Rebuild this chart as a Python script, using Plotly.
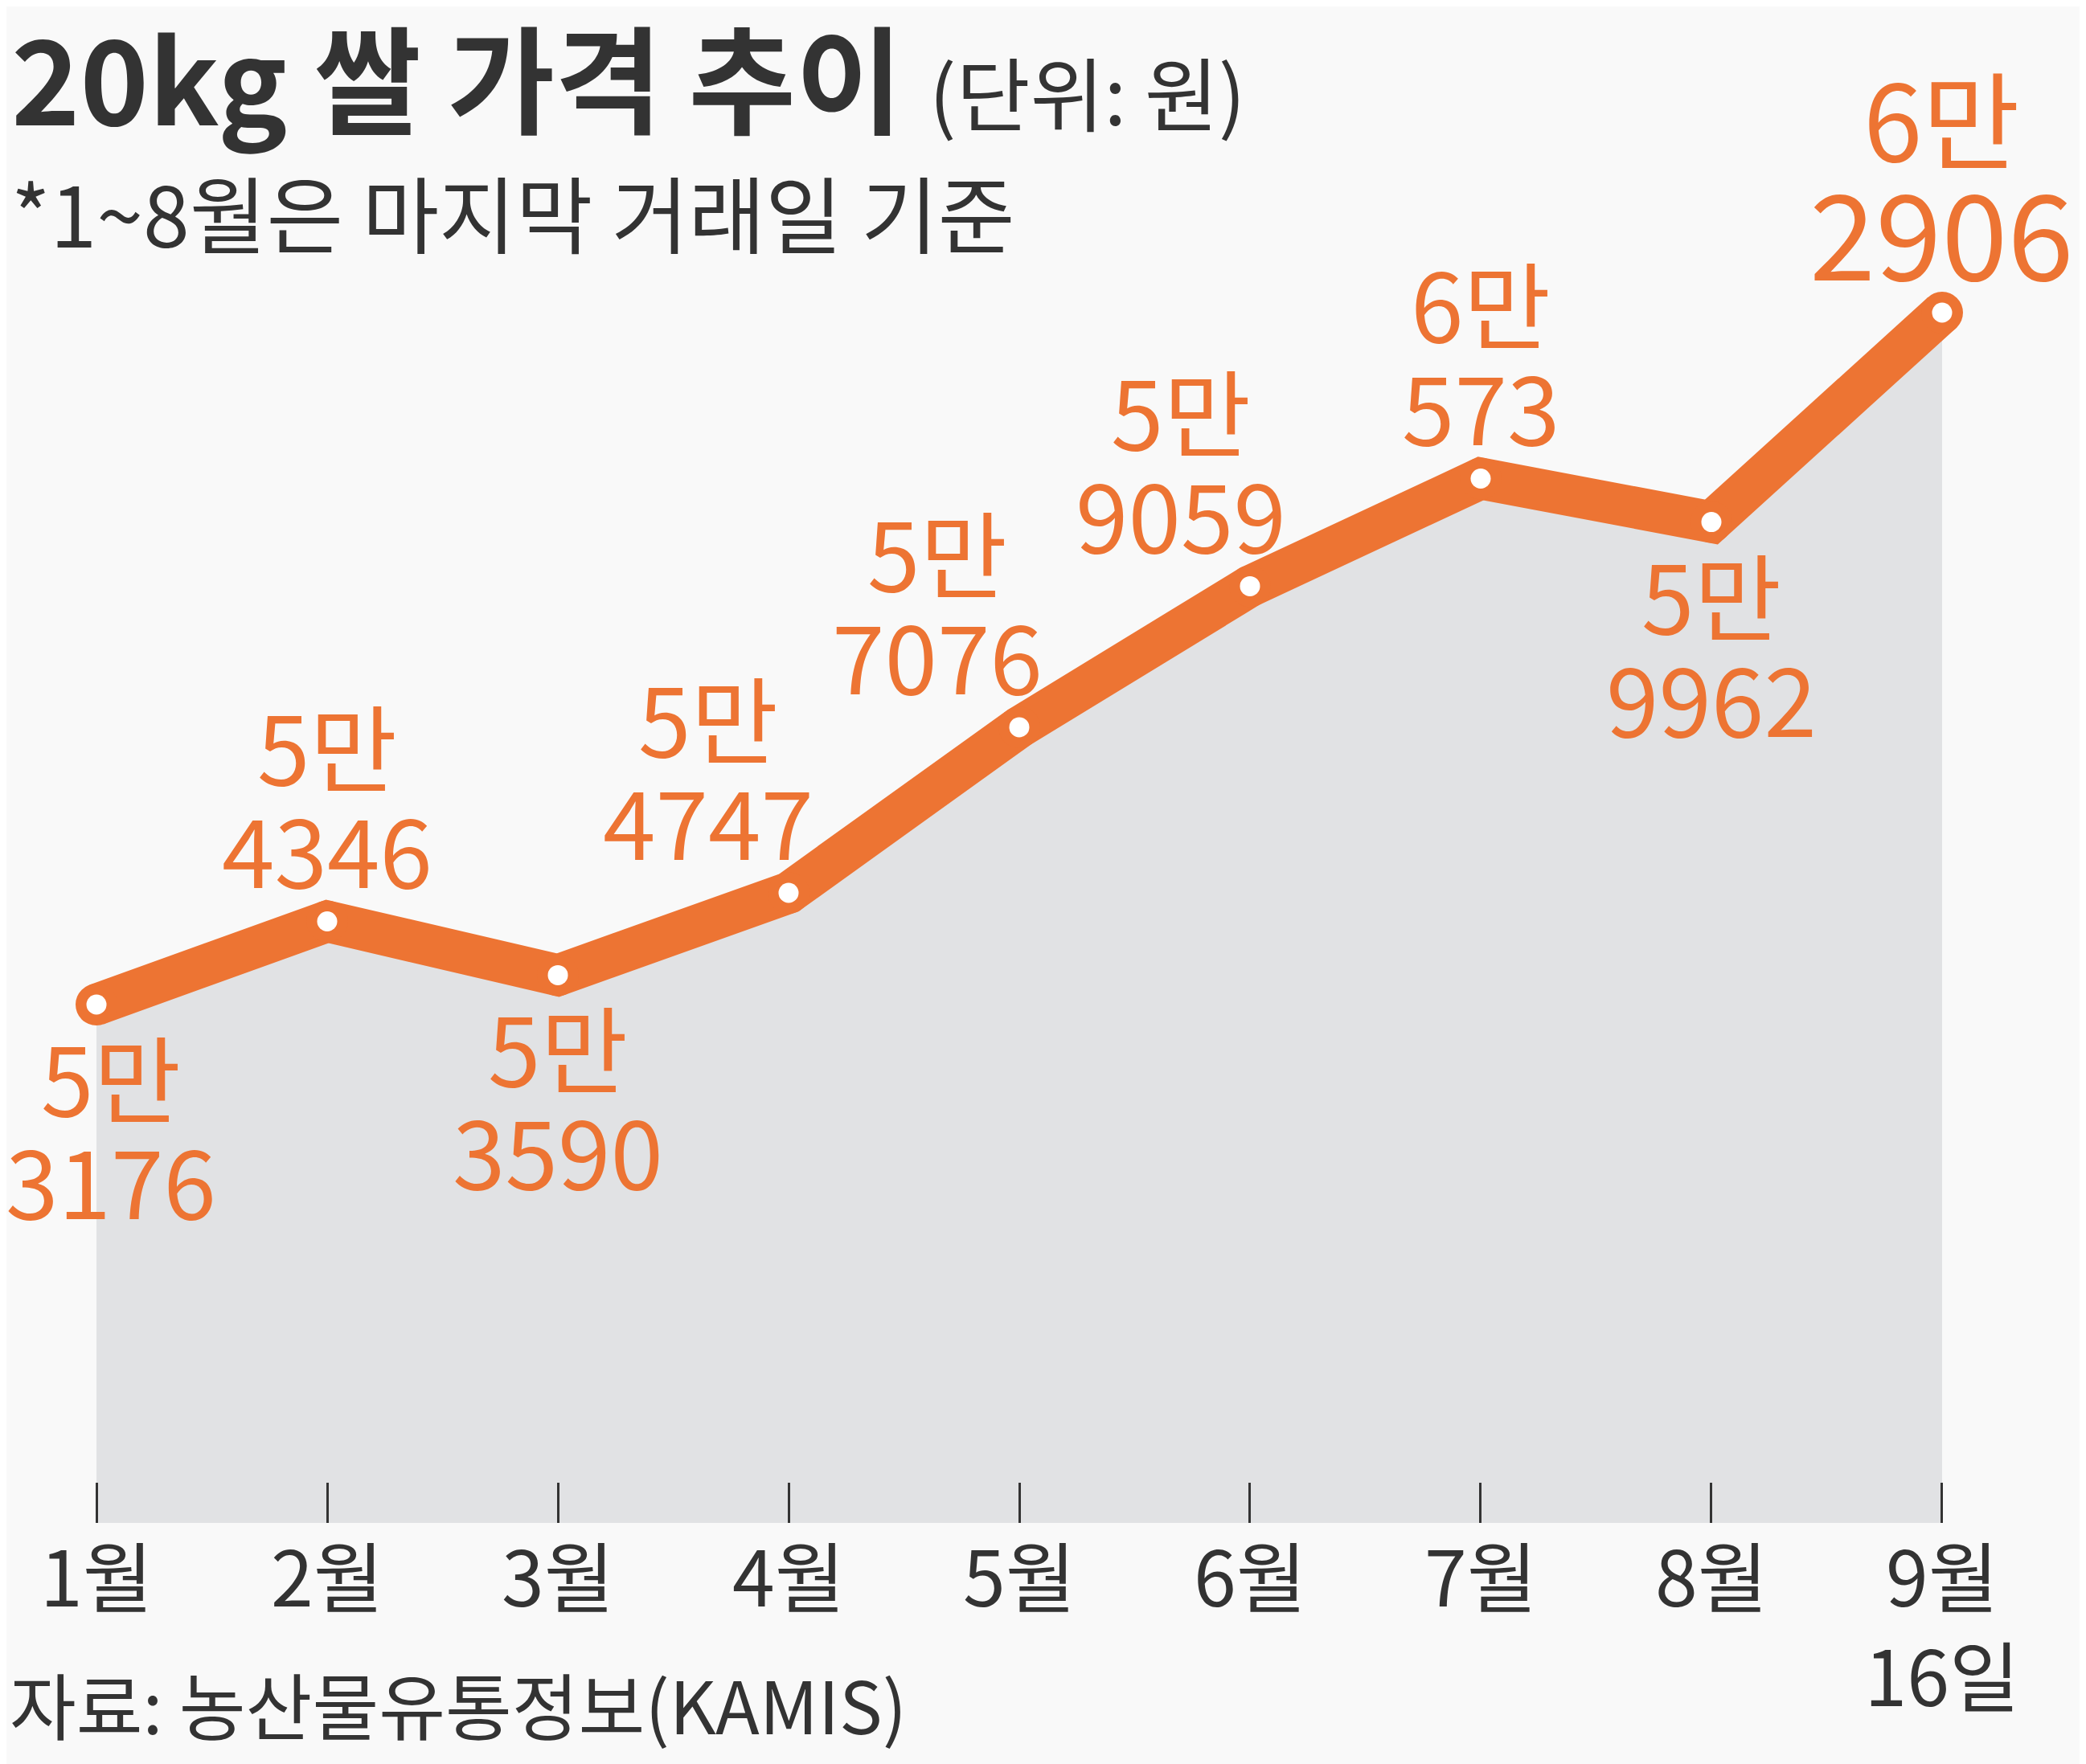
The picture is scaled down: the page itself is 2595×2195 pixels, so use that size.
import plotly.graph_objects as go

# 20kg 쌀 가격 (원)
months = ['1월', '2월', '3월', '4월', '5월', '6월', '7월', '8월', '9월<br>16일']
prices = [53176, 54346, 53590, 54747, 57076, 59059, 60573, 59962, 62906]

# page body adds 8px margin, so the figure is 8px smaller than the window
W, H = 2587, 2187
L, R, T, B = 0, 60, 0, 300
PW, PH = W - L - R, H - T - B

ORANGE = '#ed7433'
DARK = '#333333'
BG = '#f9f9f9'
FONT = 'Noto Sans CJK KR'


def px(x):
    return (x - L) / PW


def py(y):
    return (H - B - y) / PH


xs = list(range(len(months)))

fig = go.Figure()

# gray area under the line
fig.add_trace(go.Scatter(
    x=xs, y=prices, mode='lines', line=dict(width=0),
    fill='tozeroy', fillcolor='#e1e2e4', hoverinfo='skip'
))
# thick orange line, round ends/joins from same-size markers
fig.add_trace(go.Scatter(
    x=xs, y=prices, mode='lines+markers',
    line=dict(color=ORANGE, width=52),
    marker=dict(color=ORANGE, size=52),
    cliponaxis=False
))
# white dots
fig.add_trace(go.Scatter(
    x=xs, y=prices, mode='markers',
    marker=dict(color='white', size=25),
    cliponaxis=False
))

# value labels: above or below the point, with a small sideways nudge
place = ['below', 'above', 'below', 'above', 'above', 'above', 'above', 'below', 'above']
nudge = [18, 0, 0, -100, -102, -86, 0, 0, 0]

for i, v in enumerate(prices):
    man = f'{v // 10000}만'
    rest = f'{v % 10000}'
    last = i == len(prices) - 1
    s_num = 148 if last else 118
    s_man = 132 if last else 118
    if place[i] == 'above':
        lines = [(rest, s_num, -4 if last else 6, 'bottom'),
                 (man, s_man, 149 if last else 134, 'bottom')]
    else:
        lines = [(man, s_man, -1, 'top'),
                 (rest, s_num, -129, 'top')]
    for txt, size, shift, anchor in lines:
        fig.add_annotation(
            x=i, y=v, text=txt, showarrow=False,
            xanchor='center', yanchor=anchor,
            yshift=shift, xshift=nudge[i], borderpad=0,
            font=dict(family=FONT, size=size, color=ORANGE)
        )

# title, subtitle, source
fig.add_annotation(
    xref='paper', yref='paper', x=px(4), y=py(192),
    xanchor='left', yanchor='bottom', showarrow=False,
    text="<b>20kg 쌀 가격 추이</b> <span style='font-size:100px'>(단위: 원)</span>",
    font=dict(family=FONT, size=145, color=DARK)
)
fig.add_annotation(
    xref='paper', yref='paper', x=px(4), y=py(332),
    xanchor='left', yanchor='bottom', showarrow=False,
    text='*1~8월은 마지막 거래일 기준',
    font=dict(family=FONT, size=104, color=DARK)
)
fig.add_annotation(
    xref='paper', yref='paper', x=px(2), y=py(2178),
    xanchor='left', yanchor='bottom', showarrow=False,
    text='자료: 농산물유통정보(KAMIS)',
    font=dict(family=FONT, size=90, color=DARK)
)

fig.update_layout(
    width=W, height=H,
    margin=dict(l=L, r=R, t=T, b=B),
    paper_bgcolor=BG, plot_bgcolor=BG,
    showlegend=False,
    xaxis=dict(
        range=[-0.3903, 8.4147], tickvals=xs, ticktext=months,
        ticks='inside', ticklen=50, tickwidth=3, tickcolor=DARK,
        showgrid=False, zeroline=False, showline=False,
        tickfont=dict(family=FONT, size=95, color=DARK),
        ticklabelstandoff=8,
        automargin=False
    ),
    yaxis=dict(
        range=[45887, 67212], visible=False, showgrid=False,
        automargin=False
    )
)

fig.write_html('out.html')
